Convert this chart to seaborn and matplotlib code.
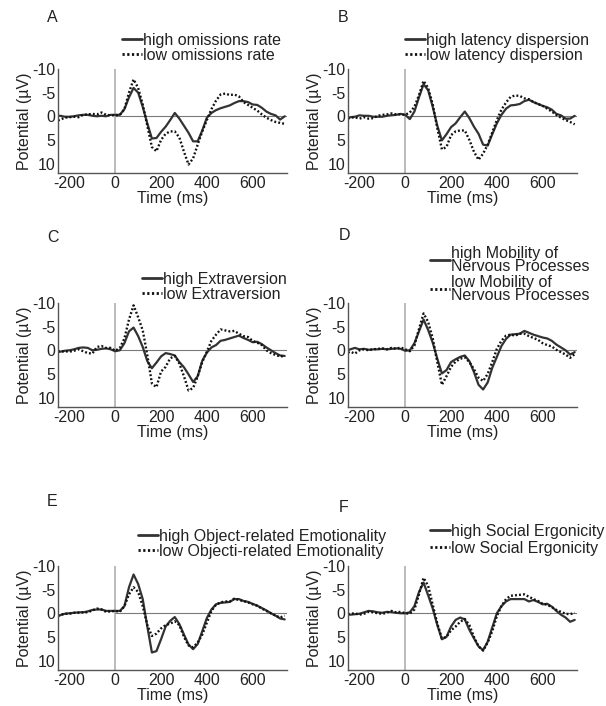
import matplotlib
matplotlib.use('Agg')
import matplotlib.pyplot as plt
import seaborn as sns
import pandas as pd

# time axis (ms)
time_ms = [-250] + list(range(-240, 741, 20))

a_high = [-0.1, -0.1, 0.1, 0.1, 0.0, -0.2, -0.3, -0.3, -0.1, 0.0, -0.1, 0.0, -0.3, -0.3,
          -0.3, -1.5, -4.0, -6.0, -5.0, -2.0, 1.5, 4.7, 4.6, 3.3, 2.2, 0.8, -0.7, 0.5, 2.0, 3.5,
          5.3, 5.3, 3.0, 0.3, -0.7, -1.3, -1.7, -2.0, -2.3, -2.8, -3.2, -3.2, -3.0, -2.5, -2.4,
          -1.8, -1.0, -0.5, -0.2, 0.7, 0.0]
a_low = [0.9, 0.7, 0.3, 0.2, 0.1, 0.2, -0.3, -0.4, -0.5, -0.4, -0.8, -0.3, -0.2, -0.2,
         -0.3, -1.5, -5.0, -7.8, -6.0, -2.5, 2.0, 6.5, 7.4, 5.0, 3.7, 3.2, 3.2, 4.5, 7.5, 10.2,
         8.9, 6.0, 3.2, 0.8, -1.5, -3.3, -4.6, -4.8, -4.5, -4.6, -4.2, -3.0, -2.4, -1.8, -1.2,
         -0.4, 0.3, 0.8, 1.2, 1.4, 1.6]

b_high = [0.3, 0.2, 0.1, -0.2, -0.1, -0.1, 0.1, 0.1, 0.1, -0.1, -0.2, -0.3, -0.5, -0.3,
          0.6, -1.0, -4.0, -6.8, -5.5, -2.0, 2.0, 5.1, 3.8, 2.3, 1.5, 0.2, -1.0, 0.4, 2.2, 3.7,
          6.0, 6.2, 3.8, 1.5, -0.3, -1.6, -2.3, -2.4, -2.6, -3.2, -3.5, -3.0, -2.6, -2.2, -1.9,
          -1.4, -0.5, -0.2, 0.5, 0.5, -0.1]
b_low = [0.5, 0.3, 0.2, 0.5, 0.2, 0.5, 0.4, -0.1, -0.3, -0.4, -0.6, -0.4, -0.4, -0.3,
         -0.8, -2.0, -4.5, -7.5, -6.0, -2.5, 2.5, 7.0, 6.5, 4.0, 3.2, 3.0, 3.0, 5.0, 7.5, 9.2,
         7.9, 6.0, 3.4, 0.8, -1.4, -2.9, -4.1, -4.4, -4.3, -3.8, -3.6, -3.0, -2.6, -2.2, -1.6,
         -1.0, -0.3, 0.3, 0.8, 1.2, 1.7]

c_high = [0.3, 0.3, 0.1, 0.0, -0.2, -0.5, -0.6, -0.5, 0.0, -0.1, -0.3, -0.4, -0.2, 0.2,
          0.0, -1.5, -4.0, -4.8, -3.0, -0.7, 2.3, 3.8, 2.6, 1.3, 0.6, 0.8, 1.1, 2.5, 3.6, 5.1,
          6.7, 5.5, 2.2, 0.5, -0.6, -1.1, -2.0, -2.2, -2.5, -2.8, -3.1, -2.6, -2.2, -1.7, -1.8,
          -1.3, -0.6, 0.0, 0.6, 1.1, 1.2]
c_low = [0.2, 0.3, 0.2, 0.3, 0.1, -0.2, 0.2, 0.6, 0.7, -0.7, -0.9, -0.5, -0.5, 0.1,
         -0.5, -2.5, -6.5, -9.5, -7.0, -4.2, 1.0, 7.0, 7.8, 4.5, 3.5, 1.7, 1.2, 2.8, 5.5, 8.5,
         8.0, 5.5, 2.5, 0.3, -2.0, -3.3, -4.4, -4.2, -4.0, -4.1, -3.5, -3.0, -2.8, -2.0, -1.6,
         -1.1, 0.0, 0.6, 1.0, 1.3, 1.2]

d_high = [0.0, -0.2, -0.5, -0.2, -0.3, -0.1, -0.2, -0.2, -0.3, -0.2, -0.3, -0.4, -0.3, 0.1,
          0.0, -1.5, -4.0, -6.5, -4.3, -1.6, 1.8, 4.9, 4.2, 2.5, 1.9, 1.4, 1.1, 2.3, 4.6, 7.3,
          8.3, 6.8, 3.7, 1.4, -0.9, -2.4, -3.3, -3.4, -3.5, -4.1, -3.7, -3.3, -3.0, -2.7, -2.5,
          -2.0, -1.2, -0.6, 0.0, 0.9, 0.4]
d_low = [0.5, 0.3, 0.7, 0.0, -0.2, 0.0, -0.2, -0.3, -0.4, -0.2, -0.5, -0.3, -0.6, -0.2,
         0.2, -1.0, -4.5, -7.8, -6.0, -2.5, 2.5, 7.3, 5.5, 3.5, 2.4, 1.8, 1.5, 2.5, 4.0, 5.8,
         6.5, 5.0, 2.5, -0.3, -2.0, -3.1, -3.3, -3.1, -3.5, -3.5, -3.0, -2.6, -2.2, -1.5, -1.1,
         -0.8, -0.1, 0.4, 0.9, 1.6, 0.8]

e_high = [0.5, 0.4, 0.1, 0.0, -0.1, -0.2, -0.2, -0.4, -0.7, -0.8, -0.8, -0.5, -0.5, -0.5,
          -0.5, -1.5, -5.5, -8.2, -6.2, -3.0, 2.8, 8.3, 8.0, 5.5, 2.8, 1.6, 0.8, 2.3, 4.5, 6.6,
          7.6, 6.5, 3.8, 1.0, -0.8, -1.9, -2.2, -2.3, -2.4, -3.0, -3.0, -2.6, -2.4, -2.0, -1.6,
          -1.1, -0.6, 0.0, 0.5, 1.1, 1.3]
e_low = [0.6, 0.3, 0.1, 0.1, -0.1, -0.1, -0.2, -0.2, -0.6, -1.0, -0.8, -0.3, -0.4, -0.5,
         -0.3, -1.5, -4.0, -5.5, -4.5, -1.5, 2.5, 4.8, 4.3, 3.2, 2.5, 2.2, 1.7, 2.5, 5.0, 6.8,
         7.2, 6.2, 4.5, 2.0, -0.5, -1.8, -2.3, -2.5, -2.5, -3.1, -2.8, -2.6, -2.3, -1.9, -1.6,
         -1.0, -0.5, 0.0, 0.5, 0.9, 0.5]

f_high = [0.2, 0.3, 0.2, 0.1, -0.2, -0.5, -0.4, -0.2, -0.1, -0.3, -0.2, -0.1, 0.0, 0.0,
          -0.2, -1.5, -4.5, -6.5, -3.8, -1.0, 2.5, 5.5, 5.0, 2.8, 1.4, 0.9, 1.3, 3.5, 5.3, 7.0,
          7.8, 6.0, 3.0, 0.0, -1.5, -2.5, -3.0, -3.0, -3.0, -3.0, -2.5, -2.8, -2.4, -1.9, -2.0,
          -1.4, -0.5, 0.3, 0.9, 1.8, 1.4]
f_low = [0.2, 0.1, 0.0, 0.3, 0.1, -0.3, -0.2, 0.0, 0.1, -0.1, -0.5, -0.2, -0.3, 0.0,
         0.1, -0.8, -4.0, -7.5, -5.8, -1.8, 2.2, 5.3, 5.0, 3.6, 2.8, 1.8, 1.2, 2.5, 5.0, 7.0,
         7.9, 6.2, 3.8, 0.6, -1.5, -3.0, -3.7, -3.8, -3.9, -4.0, -3.5, -3.0, -2.6, -2.0, -1.8,
         -1.3, -0.7, -0.3, 0.1, 0.2, -0.1]

letters = ['A', 'B', 'C', 'D', 'E', 'F']
high_labels = ['high omissions rate', 'high latency dispersion', 'high Extraversion',
               'high Mobility of\nNervous Processes', 'high Object-related Emotionality',
               'high Social Ergonicity']
low_labels = ['low omissions rate', 'low latency dispersion', 'low Extraversion',
              'low Mobility of\nNervous Processes', 'low Objecti-related Emotionality',
              'low Social Ergonicity']
highs = [a_high, b_high, c_high, d_high, e_high, f_high]
lows = [a_low, b_low, c_low, d_low, e_low, f_low]

xticks = [-200, 0, 200, 400, 600]
yticks = [-10, -5, 0, 5, 10]

sns.set_style('white')
plt.rcParams['font.family'] = ['Liberation Sans', 'DejaVu Sans']
plt.rcParams['axes.unicode_minus'] = False

W, H = 606, 706
FS = 11.5
fig = plt.figure(figsize=(W / 100, H / 100), dpi=100)

# layout in pixels: axes left/top, letter position, legend anchor, legend row spacing
ax_pos = [(58, 69), (348, 69), (58, 303), (348, 303), (58, 566), (348, 566)]
letter_pos = [(47, 17), (338, 17), (47, 237), (339, 235), (47, 502), (339, 507)]
leg_pos = [(122, 33), (405, 33), (142, 272), (430, 246), (138, 529), (430, 524)]
leg_space = [0.0, 0.0, 0.0, 0.1, -0.03, 0.12]

for i in range(6):
    lx, ty = ax_pos[i]
    ax = fig.add_axes([lx / W, 1 - (ty + 104) / H, 229 / W, 104 / H])
    df = pd.DataFrame({'time': time_ms, 'high': highs[i], 'low': lows[i]})

    ax.axvline(0, color='#b5b5b5', lw=1.3, zorder=0)
    ax.hlines(0, 0, 750, color='#7a7a7a', lw=0.8, zorder=0)

    sns.lineplot(data=df, x='time', y='high', ax=ax, color='#333333', lw=1.6,
                 label=high_labels[i])
    sns.lineplot(data=df, x='time', y='low', ax=ax, color='#111111', lw=1.7,
                 linestyle=(0, (0.8, 0.9)), label=low_labels[i])

    ax.set_xlim(-250, 750)
    ax.set_ylim(12, -10)
    ax.set_xticks(xticks)
    ax.set_yticks(yticks)
    ax.tick_params(labelsize=FS, colors='#222222', length=2, direction='in', pad=2)
    ax.set_xlabel('Time (ms)', fontsize=FS, color='#222222', labelpad=0)
    ax.set_ylabel('Potential (µV)', fontsize=FS, color='#222222', labelpad=0)
    sns.despine(ax=ax)
    for s in ['left', 'bottom']:
        ax.spines[s].set_color('#555555')
        ax.spines[s].set_linewidth(1.0)

    px, py = leg_pos[i]
    leg = ax.legend(loc='upper left', bbox_to_anchor=(px / W, 1 - py / H),
                    bbox_transform=fig.transFigure, frameon=False, fontsize=FS,
                    handlelength=1.25, handletextpad=0.05, labelspacing=leg_space[i],
                    borderpad=0, borderaxespad=0)
    for t in leg.get_texts():
        t.set_linespacing(0.8)
        t.set_color('#222222')
    for ln in leg.get_lines():
        ln.set_linewidth(2.0)

    lxp, lyp = letter_pos[i]
    fig.text(lxp / W, 1 - lyp / H, letters[i], ha='left', va='center',
             fontsize=FS, color='#222222')

fig.savefig('out.png', dpi=100)
